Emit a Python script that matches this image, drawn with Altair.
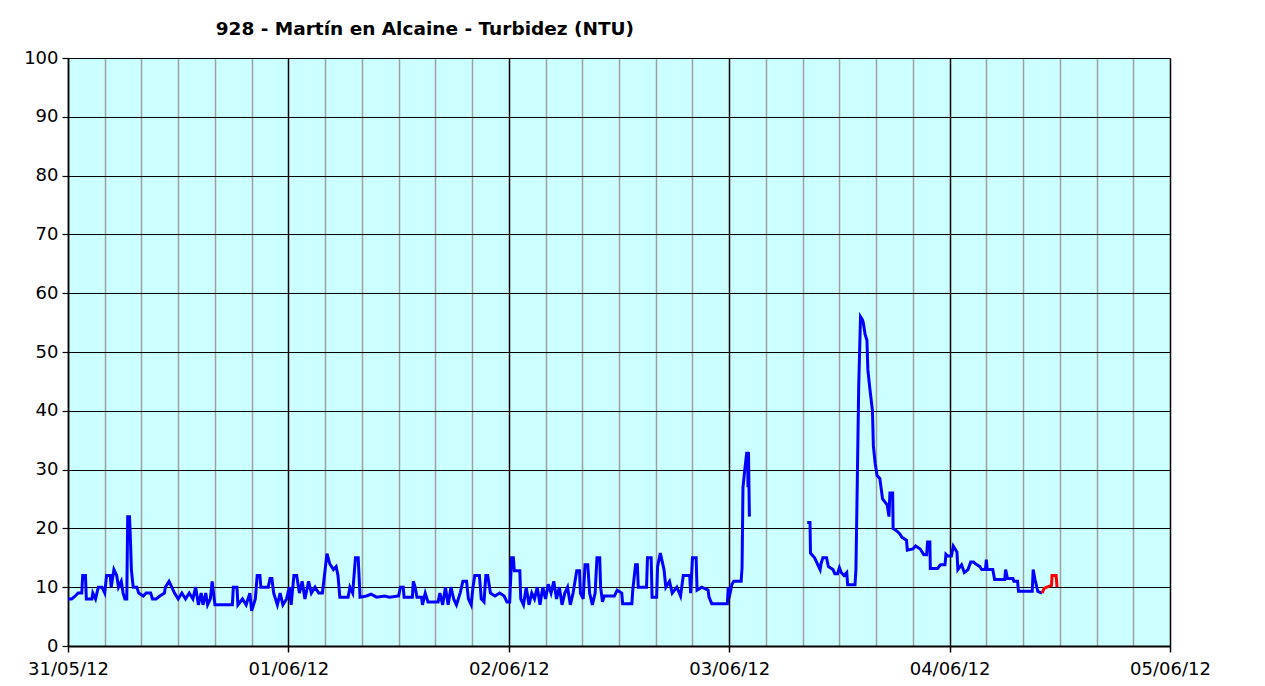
import json
import altair as alt
import pandas as pd

title_text = "928 - Martín en Alcaine - Turbidez (NTU)"
day_labels = ["31/05/12", "01/06/12", "02/06/12", "03/06/12", "04/06/12", "05/06/12"]

# hours since 31/05/12 00:00 and turbidity (NTU), first blue stretch
hours_a = [0.0, 0.4, 0.8, 1.1, 1.5, 1.6, 1.9, 2.0, 2.6, 2.7, 3.0, 3.3, 3.7, 4.0, 4.2, 4.6, 4.7, 5.0, 5.3, 5.5,
           5.8, 6.0, 6.2, 6.4, 6.5, 6.7, 6.8, 6.9, 7.1, 7.5, 7.7, 8.2, 8.5, 9.0, 9.2, 9.6, 10.0, 10.5, 10.6, 11.0,
           11.3, 11.6, 12.0, 12.4, 12.8, 13.2, 13.6, 13.9, 14.2, 14.5, 14.7, 15.0, 15.2, 15.5, 15.7, 16.0, 17.0, 17.9, 18.0, 18.4,
           18.5, 19.0, 19.4, 19.8, 20.0, 20.4, 20.6, 20.9, 21.0, 21.8, 22.0, 22.2, 22.4, 22.8, 23.1, 23.4, 23.8, 24.1, 24.3, 24.6,
           24.9, 25.2, 25.5, 25.8, 26.2, 26.5, 26.9, 27.3, 27.7, 28.0, 28.2, 28.5, 28.9, 29.2, 29.4, 29.6, 30.5, 30.7, 31.0, 31.3,
           31.6, 31.8, 32.5, 33.0, 33.6, 34.5, 35.0, 36.0, 36.2, 36.5, 36.6, 37.5, 37.6, 37.8, 38.0, 38.5, 38.6, 38.9, 39.2, 40.3,
           40.5, 40.8, 41.1, 41.4, 41.7, 42.0, 42.3, 42.7, 43.0, 43.4, 43.6, 43.9, 44.1, 44.3, 44.8, 45.0, 45.3, 45.5, 45.7, 46.0,
           46.5, 47.0, 47.5, 47.8, 48.1, 48.3, 48.5, 48.6, 49.2, 49.3, 49.6, 49.9, 50.2, 50.5, 50.8, 51.1, 51.4, 51.7, 52.0, 52.3,
           52.6, 52.9, 53.2, 53.5, 53.8, 54.1, 54.4, 54.7, 55.0, 55.4, 55.7, 55.8, 56.1, 56.3, 56.6, 56.8, 57.1, 57.4, 57.6, 57.9,
           58.0, 58.2, 58.4, 59.5, 59.8, 60.3, 60.4, 61.4, 61.5, 61.8, 62.0, 62.1, 63.0, 63.1, 63.5, 63.6, 64.1, 64.2, 64.5, 64.9,
           65.1, 65.5, 65.8, 66.3, 66.7, 67.0, 67.7, 67.8, 68.0, 68.4, 68.5, 69.0, 69.7, 69.8, 70.1, 71.8, 71.9, 72.1, 72.3, 72.5,
           73.3, 73.4, 73.5, 73.7, 73.9, 74.0, 74.05, 74.1, 74.2]
values_a = [8, 8, 8.5, 9, 9, 12, 12, 8, 8, 9, 8, 10, 10, 9, 12, 12, 10, 13, 12, 10,
            11, 9, 8, 8, 22, 22, 18, 13, 10, 10, 9, 8.5, 9, 9, 8, 8, 8.5, 9, 10, 11,
            10, 9, 8, 9, 8, 9, 8, 10, 7, 9, 7, 9, 7, 8, 11, 7, 7, 7, 10, 10,
            7, 8, 7, 9, 6, 8, 12, 12, 10, 10, 11.5, 11.5, 9, 7, 9, 7, 8, 10, 7, 12,
            12, 9, 11, 8, 11, 9, 10, 9, 9, 13, 15.7, 14, 13, 13.5, 12, 8.3, 8.3, 10, 9, 15,
            15, 8.3, 8.5, 8.8, 8.3, 8.5, 8.3, 8.5, 10, 10, 8.3, 8.3, 11, 10, 8.3, 8.3, 7, 9, 7.5, 7.5,
            9, 7, 10, 7, 10, 8, 7, 9, 11, 11, 8, 7, 10, 12, 12, 8, 7.5, 12, 12, 9,
            8.5, 9, 8.5, 7.5, 7.5, 15, 15, 12.8, 12.8, 8, 7, 10, 7, 9, 8, 10, 7, 10, 8, 10.5,
            9, 11, 8, 10, 7, 9, 10, 7, 9, 12.8, 12.8, 9, 8, 13.8, 13.8, 9, 7, 9, 15, 15,
            10, 7.5, 8.5, 8.5, 9.5, 9, 7.2, 7.2, 9.5, 13.8, 13.8, 10, 10, 15, 15, 8.3, 8.3, 13.5, 15.8, 13,
            10, 11, 9, 10, 8.5, 12, 12, 9, 15, 15, 9.5, 10, 9.5, 8.3, 7.2, 7.2, 10, 9, 10.5, 11,
            11, 13.3, 27, 30, 32.8, 32.8, 27, 33, 22]

# second blue stretch, after the gap in the record
hours_b = [80.5, 80.8, 80.85, 81.3, 81.9, 82.0, 82.2, 82.6, 82.8, 83.3, 83.5, 83.8, 84.0, 84.2, 84.5, 84.8, 84.9, 85.7, 85.8, 85.95,
           86.1, 86.3, 86.5, 86.6, 86.8, 87.0, 87.1, 87.3, 87.6, 87.7, 87.9, 88.1, 88.4, 88.7, 89.2, 89.4, 89.5, 89.8, 89.85, 90.3,
           90.6, 90.8, 91.3, 91.4, 92.0, 92.3, 92.8, 93.2, 93.5, 93.6, 93.85, 93.9, 94.7, 95.0, 95.5, 95.6, 95.8, 96.2, 96.4, 96.8,
           96.9, 97.3, 97.6, 98.0, 98.3, 98.6, 98.8, 99.3, 99.5, 99.9, 100.0, 100.1, 100.7, 100.9, 102.0, 102.1, 102.3, 102.9, 103.0, 103.4,
           103.5, 105.0, 105.1, 105.3, 105.5, 105.6, 106.06]
values_b = [21, 21, 15.8, 15, 13, 14, 15, 15, 13.5, 13, 12.3, 12.3, 13.3, 12.5, 12, 12.5, 10.4, 10.4, 13, 28,
            44, 56, 55.5, 55, 53, 52, 47, 44, 40, 34, 31, 29, 28.5, 25, 24, 22, 26, 26, 20, 19.5,
            19, 18.5, 18, 16.3, 16.5, 17, 16.5, 15.5, 15.5, 17.7, 17.7, 13.2, 13.2, 13.8, 13.8, 15.6, 15.3, 15.3, 17, 16,
            13, 13.8, 12.5, 13, 14.3, 14.3, 14, 13.5, 13, 13, 14.7, 13, 13, 11.3, 11.3, 13, 11.5, 11.5, 11, 11,
            9.3, 9.3, 13, 11.3, 10, 9.3, 9]

# last values, drawn in red
hours_red = [106.06, 106.3, 106.6, 107.1, 107.15, 107.6, 107.7]
values_red = [9, 9.8, 10, 10.3, 12, 12, 10]

rows = []
for seg, kind, hs, vs in [("a", "blue", hours_a, values_a),
                          ("b", "blue", hours_b, values_b),
                          ("r", "red", hours_red, values_red)]:
    for h, v in zip(hs, vs):
        rows.append({"h": h, "v": v, "seg": seg, "kind": kind})
df = pd.DataFrame(rows)

x_ticks = list(range(0, 121, 4))
y_ticks = list(range(0, 101, 10))

font = "DejaVu Sans"
day_test = "datum.value % 24 == 0"
label_expr = day_test + " ? " + json.dumps(day_labels) + "[datum.value / 24] : ''"

line = alt.Chart(df).mark_line(strokeWidth=3, interpolate="linear").encode(
    x=alt.X("h:Q",
            scale=alt.Scale(domain=[0, 120], nice=False, zero=False),
            axis=alt.Axis(values=x_ticks, labelExpr=label_expr, title=None,
                          grid=True,
                          gridColor={"condition": {"test": day_test, "value": "#000000"}, "value": "#a0a0a0"},
                          gridWidth=1.5,
                          tickColor={"condition": {"test": day_test, "value": "#000000"}, "value": "transparent"},
                          tickSize=6, tickWidth=1.5,
                          domainColor="#000000", domainWidth=2,
                          labelFont=font, labelFontSize=18, labelColor="#000000",
                          labelPadding=8, labelOverlap=False, labelFlush=False)),
    y=alt.Y("v:Q",
            scale=alt.Scale(domain=[0, 100], nice=False),
            axis=alt.Axis(values=y_ticks, title=None, grid=True, gridColor="#000000", gridWidth=1.2,
                          tickColor="#000000", tickSize=6, tickWidth=1.2,
                          domainColor="#000000", domainWidth=1.5,
                          labelFont=font, labelFontSize=18, labelColor="#000000",
                          labelPadding=4)),
    color=alt.Color("kind:N", scale=alt.Scale(domain=["blue", "red"], range=["#0000FF", "#FF0000"]), legend=None),
    detail="seg:N",
)

chart = line.properties(
    width=1102,
    height=588,
    background="#ffffff",
    title=alt.TitleParams(title_text, anchor="start", dx=192, offset=11, font=font, fontSize=18.5,
                          fontWeight="bold", color="#000000"),
    autosize=alt.AutoSizeParams(type="none"),
    padding={"left": 60, "top": 50, "right": 85, "bottom": 32},
).configure_view(fill="#CCFFFF", strokeWidth=0)

chart.save("out.html", embed_options={"renderer": "svg", "actions": False})
